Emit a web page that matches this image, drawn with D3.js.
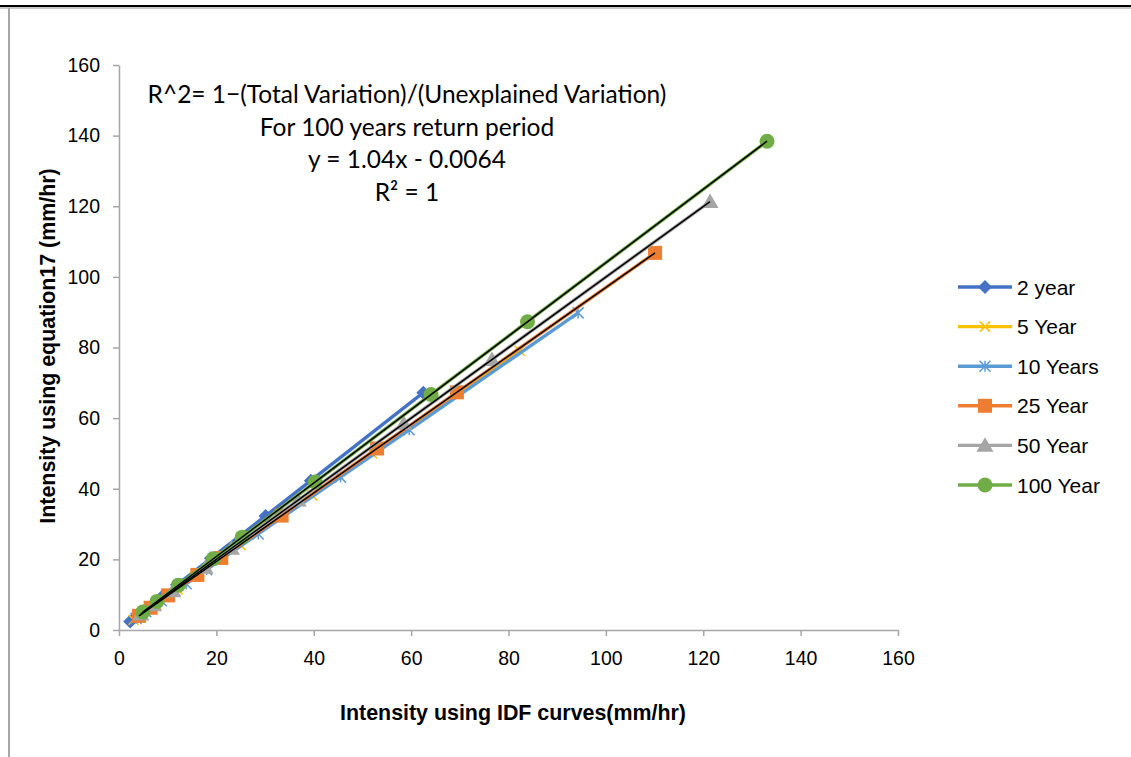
<!DOCTYPE html>
<html><head><meta charset="utf-8">
<script src="https://cdn.jsdelivr.net/npm/d3@7"></script>
<style>body{margin:0;background:#fff}svg{display:block}</style>
</head><body><svg id="c" width="1131" height="757"></svg>
<script>
const seriesNames = ["2 year","5 Year","10 Years","25 Year","50 Year","100 Year"];
const idf2   = [2.3, 3.7, 5.7, 9.1, 11.9, 18.9, 30.1, 39.4, 62.5];
const eq2    = [2.4, 4.0, 6.1, 9.8, 12.8, 20.3, 32.3, 42.3, 67.2];
const idf5   = [3.0, 4.8, 7.6, 12.0, 15.7, 25.0, 39.7, 52.0, 82.3];
const eq5    = [2.9, 4.6, 7.3, 11.5, 15.1, 24.0, 38.1, 50.0, 79.1];
const idf10  = [3.5, 5.5, 8.7, 13.8, 18.0, 28.6, 45.5, 59.6, 94.3];
const eq10   = [3.3, 5.2, 8.3, 13.1, 17.1, 27.2, 43.3, 56.7, 89.8];
const idf25  = [4.1, 6.5, 10.1, 16.1, 21.0, 33.4, 53.0, 69.4, 110.1];
const eq25   = [4.0, 6.3, 9.8, 15.6, 20.4, 32.4, 51.4, 67.3, 106.8];
const idf50  = [4.5, 7.1, 11.1, 17.7, 23.1, 36.8, 58.5, 76.6, 121.4];
const eq50   = [4.5, 7.1, 11.1, 17.7, 23.1, 36.8, 58.5, 76.6, 121.3];
const idf100 = [4.9, 7.8, 12.2, 19.4, 25.3, 40.3, 64.1, 83.9, 133.1];
const eq100  = [5.1, 8.1, 12.7, 20.2, 26.3, 41.9, 66.7, 87.3, 138.4];
const xTicks = [0,20,40,60,80,100,120,140,160];
const yTicks = [0,20,40,60,80,100,120,140,160];
const trendSeries = [3,4,5];
const noteLines = ["R^2= 1\u2212(Total Variation)/(Unexplained Variation)","For 100 years return period","y = 1.04x - 0.0064","R\u00B2 = 1"];
const xTitle = "Intensity using IDF curves(mm/hr)";
const yTitle = "Intensity using equation17 (mm/hr)";

const colors = ["#4472C4","#FFC000","#5B9BD5","#ED7D31","#A5A5A5","#70AD47"];
const markers = ["diamond","x","star","square","triangle","circle"];
const xs = [idf2,idf5,idf10,idf25,idf50,idf100];
const ys = [eq2,eq5,eq10,eq25,eq50,eq100];
const data = seriesNames.map((n,i)=>({name:n,color:colors[i],marker:markers[i],pts:xs[i].map((v,j)=>[v,ys[i][j]])}));

const svg = d3.select("#c");
const font = "'Liberation Sans', Arial, sans-serif";
// frame
svg.append("line").attr("x1",0).attr("x2",1131).attr("y1",8).attr("y2",8).attr("stroke","#c8c8c8").attr("stroke-width",2);
svg.append("line").attr("x1",0).attr("x2",1131).attr("y1",6).attr("y2",6).attr("stroke","#000").attr("stroke-width",2);
svg.append("line").attr("x1",9).attr("x2",9).attr("y1",8).attr("y2",757).attr("stroke","#a6a6a6").attr("stroke-width",2);

const x = d3.scaleLinear().domain([0,160]).range([119,898]);
const y = d3.scaleLinear().domain([0,160]).range([630,65]);

const axX = svg.append("g").attr("transform","translate(0,630)")
  .call(d3.axisBottom(x).tickValues(xTicks).tickSize(6).tickPadding(15).tickSizeOuter(0));
const axY = svg.append("g").attr("transform","translate(119,0)")
  .call(d3.axisLeft(y).tickValues(yTicks).tickSize(6).tickPadding(13).tickSizeOuter(0));
[axX,axY].forEach(a=>{
  a.attr("font-size",null).attr("font-family",null);
  a.select(".domain").attr("stroke","#a6a6a6").attr("stroke-width",1.5);
  a.selectAll(".tick line").attr("stroke","#a6a6a6").attr("stroke-width",1.5);
  a.selectAll(".tick text").attr("fill","#000").style("font-family",font).style("font-size","19.5px");
});

function markerPath(type,size){
  const s=size;
  if(type==="diamond") return `M0,${-s}L${s},0L0,${s}L${-s},0Z`;
  if(type==="square") return `M${-s},${-s}H${s}V${s}H${-s}Z`;
  if(type==="triangle") return `M0,${-s*0.95}L${s},${s*0.75}L${-s},${s*0.75}Z`;
  if(type==="x") return `M${-s},${-s}L${s},${s}M${-s},${s}L${s},${-s}`;
  if(type==="star") return `M${-s},${-s}L${s},${s}M${-s},${s}L${s},${-s}M0,${-s}V${s}`;
  return null;
}
function drawMarker(g,type,color,cx,cy){
  if(type==="circle"){ g.append("circle").attr("cx",cx).attr("cy",cy).attr("r",7.5).attr("fill",color); return; }
  const sz = {diamond:7,square:7,triangle:8.5,x:5,star:5.5}[type];
  const p = g.append("path").attr("d",markerPath(type,sz)).attr("transform",`translate(${cx},${cy})`);
  if(type==="x"||type==="star") p.attr("fill","none").attr("stroke",color).attr("stroke-width",1.5);
  else p.attr("fill",color);
}

const line = d3.line().x(d=>x(d[0])).y(d=>y(d[1]));
const plot = svg.append("g");
data.forEach(s=>{
  const g = plot.append("g");
  g.append("path").datum(s.pts).attr("d",line).attr("fill","none").attr("stroke",s.color).attr("stroke-width",3.4).attr("stroke-linejoin","round");
  s.pts.forEach(p=>drawMarker(g,s.marker,s.color,x(p[0]),y(p[1])));
});
// linear trendlines (least squares)
trendSeries.forEach(i=>{
  const pts = data[i].pts;
  const mx = d3.mean(pts,d=>d[0]), my = d3.mean(pts,d=>d[1]);
  const b = d3.sum(pts,d=>(d[0]-mx)*(d[1]-my))/d3.sum(pts,d=>(d[0]-mx)**2);
  const a = my - b*mx;
  const x0 = d3.min(pts,d=>d[0]), x1 = d3.max(pts,d=>d[0]);
  plot.append("line").attr("x1",x(x0)).attr("y1",y(a+b*x0)).attr("x2",x(x1)).attr("y2",y(a+b*x1))
    .attr("stroke","#000").attr("stroke-width",1.5);
});

// annotation
const note = svg.append("text").attr("text-anchor","middle").style("font-family","Lato, 'Open Sans', sans-serif").style("font-size","24.5px").attr("fill","#000");
noteLines.forEach((t,i)=>note.append("tspan").attr("x",407).attr("y",103+i*32.7).text(t));

// axis titles
svg.append("text").attr("x",513).attr("y",720).attr("text-anchor","middle").style("font-family",font).style("font-weight","bold").style("font-size","21.4px").text(xTitle);
svg.append("text").attr("transform","translate(55,346) rotate(-90)").attr("text-anchor","middle").style("font-family",font).style("font-weight","bold").style("font-size","21.4px").text(yTitle);

// legend
const leg = svg.append("g");
data.forEach((s,i)=>{
  const cy = 287 + i*39.6;
  leg.append("line").attr("x1",958).attr("x2",1012).attr("y1",cy).attr("y2",cy).attr("stroke",s.color).attr("stroke-width",3.4);
  drawMarker(leg,s.marker,s.color,985,cy);
  leg.append("text").attr("x",1017).attr("y",cy+7.5).style("font-family",font).style("font-size","21px").text(s.name);
});
</script></body></html>
